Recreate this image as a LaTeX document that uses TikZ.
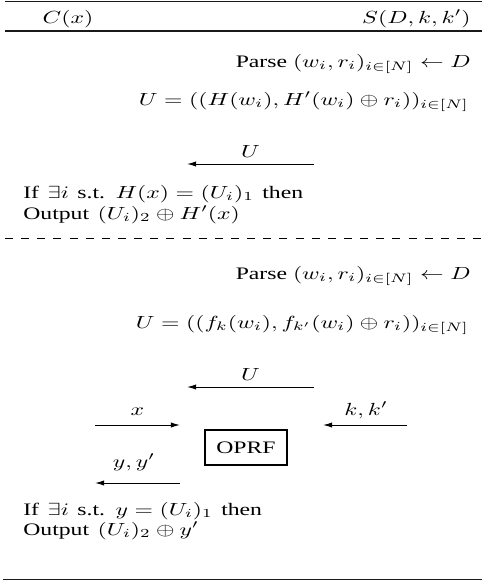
\documentclass[tikz,border=0pt]{standalone}
\usepackage[no-math]{fontspec}
\usepackage{graphicx}
\setmainfont{Liberation Serif}
\usetikzlibrary{arrows.meta}
\newcommand{\widetxt}[1]{\scalebox{1.35}[1]{#1}}
\newcommand{\widelne}[1]{\scalebox{1.35}[1]{\spaceskip=3.6pt\relax #1}}
\begin{document}
\begin{tikzpicture}[x=0.57pt,y=-0.57pt,
  txt/.style={inner sep=0pt, font=\fontsize{10}{12}\selectfont},
  rline/.style={txt, anchor=base east},
  lline/.style={txt, anchor=base west},
  lbl/.style={txt, anchor=base},
  rulethick/.style={line width=0.9pt, black!90},
  dashrule/.style={line width=0.55pt, dash pattern=on 4.6pt off 4.6pt},
  msg/.style={line width=0.55pt, -{Latex[length=5.2pt,width=3pt]}},
  boxed/.style={txt, draw, line width=0.6pt, minimum width=82*0.57pt, minimum height=35*0.57pt},
]
\useasboundingbox (0,0) rectangle (482,581);

% rules
\coordinate (r1l) at (5,1.5);   \coordinate (r1r) at (482,1.5);
\coordinate (r2l) at (5,31);    \coordinate (r2r) at (482,31);
\coordinate (r3l) at (5,238);   \coordinate (r3r) at (482,238);
\coordinate (r4l) at (3,579.5); \coordinate (r4r) at (482,579.5);
\draw[rulethick] (r1l) -- (r1r);
\draw[rulethick] (r2l) -- (r2r);
\draw[dashrule] (r3l) -- (r3r);
\draw[rulethick] (r4l) -- (r4r);

% header
\node[lbl] (hc) at (68,23) {\widetxt{$C(x)$}};
\node[rline] (hs) at (471,23) {\widetxt{$S(D,k,k')$}};

% first protocol
\node[rline] (p1) at (471,67) {\widetxt{Parse $(w_i,r_i)_{i\in[N]}\leftarrow D$}};
\node[rline] (u1) at (469,105) {\widetxt{$U=((H(w_i),H'(w_i)\oplus r_i))_{i\in[N]}$}};
\coordinate (a1s) at (314,164); \coordinate (a1e) at (187,164);
\draw[msg] (a1s) -- (a1e);
\node[lbl] (l1) at (250.5,157) {\widetxt{$U$}};
\node[lline] (if1) at (23,198) {\widelne{If $\exists i$ s.t. $H(x)=(U_i)_1$ then}};
\node[lline] (o1) at (23,219) {\widelne{Output $(U_i)_2\oplus H'(x)$}};

% second protocol
\node[rline] (p2) at (471,279) {\widetxt{Parse $(w_i,r_i)_{i\in[N]}\leftarrow D$}};
\node[rline] (u2) at (469,328) {\widetxt{$U=((f_k(w_i),f_{k'}(w_i)\oplus r_i))_{i\in[N]}$}};
\coordinate (a2s) at (314,387); \coordinate (a2e) at (187,387);
\draw[msg] (a2s) -- (a2e);
\node[lbl] (l2) at (250.5,380) {\widetxt{$U$}};

\coordinate (axs) at (95,425); \coordinate (axe) at (180,425);
\draw[msg] (axs) -- (axe);
\node[lbl] (lx) at (137.5,415) {\widetxt{$x$}};

\coordinate (aks) at (407,425); \coordinate (ake) at (323,425);
\draw[msg] (aks) -- (ake);
\node[lbl] (lk) at (366,415) {\widetxt{$k,k'$}};

\node[boxed] (oprf) at (246,447.5) {\widetxt{OPRF}};

\coordinate (ays) at (180,483); \coordinate (aye) at (95,483);
\draw[msg] (ays) -- (aye);
\node[lbl] (ly) at (134,467) {\widetxt{$y,y'$}};

\node[lline] (if2) at (23,515) {\widelne{If $\exists i$ s.t. $y=(U_i)_1$ then}};
\node[lline] (o2) at (23,535) {\widelne{Output $(U_i)_2\oplus y'$}};
\end{tikzpicture}
\end{document}
